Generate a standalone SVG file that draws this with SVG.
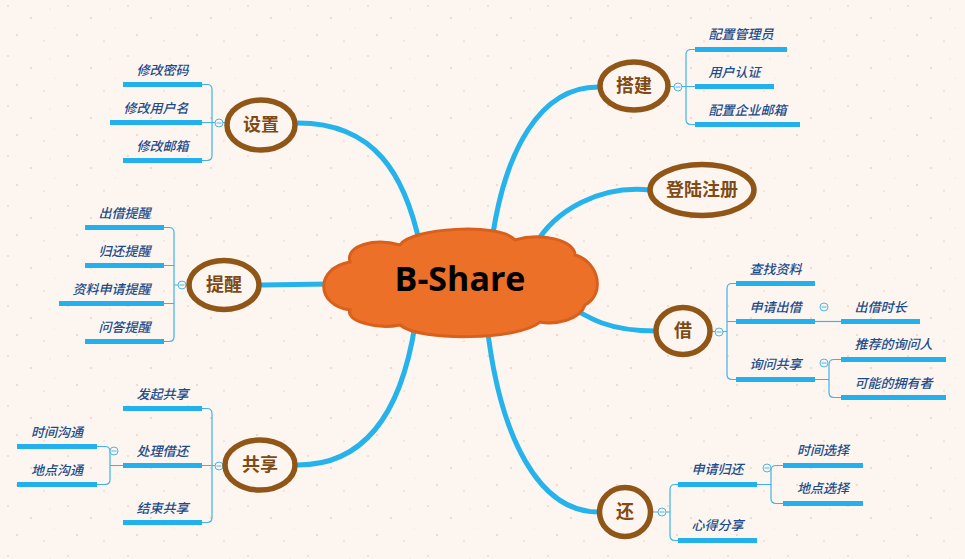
<svg xmlns="http://www.w3.org/2000/svg" width="965" height="559" viewBox="0 0 965 559">
<defs>
<pattern id="spk" width="60" height="50" patternUnits="userSpaceOnUse">
<rect width="60" height="50" fill="#fdf6f0"/>
<circle cx="8" cy="6" r="1" fill="#f2d6c4"/>
<circle cx="31" cy="18" r="0.9" fill="#f0cdb8"/>
<circle cx="50" cy="9" r="0.7" fill="#f4dccd"/>
<circle cx="17" cy="35" r="1.1" fill="#f2d3c0"/>
<circle cx="44" cy="41" r="0.8" fill="#f0cdb8"/>
<circle cx="55" cy="28" r="0.6" fill="#f4dccd"/>
</pattern>
<style>
.main{fill:none;stroke:#26b3ec;stroke-width:5;stroke-linecap:round}
.thin{fill:none;stroke:#3fb3e8;stroke-width:1.2}
.bar{fill:#22b1ec}
.col{fill:#fdf6f0;stroke:#4db6e8;stroke-width:1}
.minus{stroke:#4db6e8;stroke-width:1}
.node{fill:#fdf6f0;stroke:#8f5618;stroke-width:5.5}
.nt{font-family:"Noto Sans CJK SC","Noto Sans",sans-serif;font-size:18px;font-weight:bold;fill:#7f4a14;text-anchor:middle}
.lt{font-family:"Noto Sans CJK SC","Noto Sans",sans-serif;font-size:13px;font-weight:500;font-style:italic;fill:#1c4c8c;text-anchor:middle}
</style>
</defs>
<rect width="965" height="559" fill="url(#spk)"/>

<g id="connectors">
<path class="main" d="M298,123 C375,123 405,175 420,245"/>
<path class="main" d="M598,87 C540,87 505,150 492,240"/>
<path class="main" d="M650,190 C600,185 555,210 535,245"/>
<path class="main" d="M262,285 L330,284"/>
<path class="main" d="M560,300 C590,320 610,331 656,331"/>
<path class="main" d="M415,325 C400,420 360,465 298,465"/>
<path class="main" d="M487,325 C500,440 540,512 598,512"/>

<path class="thin" d="M202,84.5 H207 Q212,84.5 212,89.5 V155.5 Q212,160.5 207,160.5 H202 M202,122.5 H225"/>
<path class="thin" d="M164,227.5 H169 Q174,227.5 174,232.5 V336.5 Q174,341.5 169,341.5 H164 M164,265.5 H174 M164,303.5 H174 M174,285 H188"/>
<path class="thin" d="M202,408.5 H207 Q212,408.5 212,413.5 V517.5 Q212,522.5 207,522.5 H202 M202,465.5 H224"/>
<path class="thin" d="M97,446.5 H105 Q110,446.5 110,451.5 V479.5 Q110,484.5 105,484.5 H97 M110,465.5 H123"/>
<path class="thin" d="M695,49.5 H691 Q686,49.5 686,54.5 V119.5 Q686,124.5 691,124.5 H695 M670,86.5 H695"/>
<path class="thin" d="M736,283.5 H732 Q727,283.5 727,288.5 V374.5 Q727,379.5 732,379.5 H736 M727,321.5 H736 M711,331.5 H727"/>
<path class="thin" d="M815,321.5 H841"/>
<path class="thin" d="M815,379.5 H829 M841,359.5 H834 Q829,359.5 829,364.5 V392.5 Q829,397.5 834,397.5 H841"/>
<path class="thin" d="M678,484.5 H675 Q670,484.5 670,489.5 V535.5 Q670,540.5 675,540.5 H678 M652,512 H670"/>
<path class="thin" d="M757,484.5 H771 M783,465.5 H776 Q771,465.5 771,470.5 V498.5 Q771,503.5 776,503.5 H783"/>

<g id="collapsers">
<circle class="col" cx="219" cy="123" r="4"/><path class="minus" d="M216.5,123 H221.5"/>
<circle class="col" cx="182" cy="285" r="4"/><path class="minus" d="M179.5,285 H184.5"/>
<circle class="col" cx="219" cy="466" r="4"/><path class="minus" d="M216.5,466 H221.5"/>
<circle class="col" cx="114" cy="451" r="4"/><path class="minus" d="M111.5,451 H116.5"/>
<circle class="col" cx="678" cy="87" r="4"/><path class="minus" d="M675.5,87 H680.5"/>
<circle class="col" cx="719" cy="332" r="4"/><path class="minus" d="M716.5,332 H721.5"/>
<circle class="col" cx="824" cy="307" r="4"/><path class="minus" d="M821.5,307 H826.5"/>
<circle class="col" cx="824" cy="363" r="4"/><path class="minus" d="M821.5,363 H826.5"/>
<circle class="col" cx="662" cy="512" r="4"/><path class="minus" d="M659.5,512 H664.5"/>
<circle class="col" cx="767" cy="468" r="4"/><path class="minus" d="M764.5,468 H769.5"/>
</g>
</g>

<g id="root">
<path d="M350,262 C345,245 375,238 400,245 C410,228 500,222 515,240 C540,232 575,240 575,255 C600,262 605,295 585,305 C580,320 555,325 540,322 C520,340 420,342 400,325 C375,330 345,320 350,310 C315,305 315,268 350,262 Z" fill="#ec7027" stroke="#d95f1d" stroke-width="3"/>
<text x="460" y="291" font-family="'Open Sans','Noto Sans',sans-serif" font-size="34" font-weight="bold" text-anchor="middle" fill="#000">B-Share</text>
</g>

<g id="n-dajian"><ellipse class="node" cx="634" cy="86" rx="34" ry="24"/><text class="nt" x="634" y="92">搭建</text></g>
<g id="n-shezhi"><ellipse class="node" cx="261" cy="125" rx="34" ry="25"/><text class="nt" x="261" y="131">设置</text></g>
<g id="n-tixing"><ellipse class="node" cx="224" cy="285" rx="35" ry="24.5"/><text class="nt" x="224" y="291">提醒</text></g>
<g id="n-gongxiang"><ellipse class="node" cx="260" cy="465" rx="35" ry="25"/><text class="nt" x="260" y="471">共享</text></g>
<g id="n-jie"><ellipse class="node" cx="683" cy="331" rx="27" ry="23.5"/><text class="nt" x="683" y="337">借</text></g>
<g id="n-huan"><ellipse class="node" cx="625" cy="512" rx="25.5" ry="24.5"/><text class="nt" x="625" y="518">还</text></g>
<g id="n-denglu"><ellipse class="node" cx="702" cy="190" rx="52" ry="25.5"/><text class="nt" x="702" y="196">登陆注册</text></g>

<g id="l-xgmm"><rect class="bar" x="123" y="82" width="79" height="5"/><text class="lt" x="162.5" y="75">修改密码</text></g>
<g id="l-xgyhm"><rect class="bar" x="110" y="120" width="92" height="5"/><text class="lt" x="156" y="113">修改用户名</text></g>
<g id="l-xgyx"><rect class="bar" x="123" y="158" width="79" height="5"/><text class="lt" x="162.5" y="151">修改邮箱</text></g>

<g id="l-cjtx"><rect class="bar" x="85" y="225" width="79" height="5"/><text class="lt" x="124.5" y="218">出借提醒</text></g>
<g id="l-ghtx"><rect class="bar" x="85" y="263" width="79" height="5"/><text class="lt" x="124.5" y="256">归还提醒</text></g>
<g id="l-zlsqtx"><rect class="bar" x="59" y="301" width="105" height="5"/><text class="lt" x="111.5" y="294">资料申请提醒</text></g>
<g id="l-wdtx"><rect class="bar" x="85" y="339" width="79" height="5"/><text class="lt" x="124.5" y="332">问答提醒</text></g>

<g id="l-fqgx"><rect class="bar" x="123" y="406" width="79" height="5"/><text class="lt" x="162.5" y="399">发起共享</text></g>
<g id="l-cljh"><rect class="bar" x="123" y="463" width="79" height="5"/><text class="lt" x="162.5" y="456">处理借还</text></g>
<g id="l-jsgx"><rect class="bar" x="123" y="520" width="79" height="5"/><text class="lt" x="162.5" y="513">结束共享</text></g>
<g id="l-sjgt"><rect class="bar" x="17" y="444" width="80" height="5"/><text class="lt" x="57" y="437">时间沟通</text></g>
<g id="l-ddgt"><rect class="bar" x="17" y="482" width="80" height="5"/><text class="lt" x="57" y="475">地点沟通</text></g>

<g id="l-pzgly"><rect class="bar" x="695" y="47" width="92" height="5"/><text class="lt" x="741" y="39">配置管理员</text></g>
<g id="l-yhrz"><rect class="bar" x="695" y="84" width="79" height="5"/><text class="lt" x="734.5" y="77">用户认证</text></g>
<g id="l-pzqyyx"><rect class="bar" x="695" y="122" width="105" height="5"/><text class="lt" x="747.5" y="115">配置企业邮箱</text></g>

<g id="l-czzl"><rect class="bar" x="736" y="281" width="79" height="5"/><text class="lt" x="775.5" y="274">查找资料</text></g>
<g id="l-sqcj"><rect class="bar" x="736" y="319" width="79" height="5"/><text class="lt" x="775.5" y="312">申请出借</text></g>
<g id="l-xwgx"><rect class="bar" x="736" y="377" width="79" height="5"/><text class="lt" x="775.5" y="369">询问共享</text></g>
<g id="l-cjsc"><rect class="bar" x="841" y="319" width="79" height="5"/><text class="lt" x="880.5" y="312">出借时长</text></g>
<g id="l-tjdxwr"><rect class="bar" x="841" y="357" width="105" height="5"/><text class="lt" x="893.5" y="349">推荐的询问人</text></g>
<g id="l-kndyyz"><rect class="bar" x="841" y="395" width="105" height="5"/><text class="lt" x="893.5" y="388">可能的拥有者</text></g>

<g id="l-sqgh"><rect class="bar" x="678" y="482" width="79" height="5"/><text class="lt" x="717.5" y="474">申请归还</text></g>
<g id="l-xdfx"><rect class="bar" x="678" y="538" width="79" height="5"/><text class="lt" x="717.5" y="530">心得分享</text></g>
<g id="l-sjxz"><rect class="bar" x="783" y="463" width="80" height="5"/><text class="lt" x="823" y="455">时间选择</text></g>
<g id="l-ddxz"><rect class="bar" x="783" y="501" width="80" height="5"/><text class="lt" x="823" y="493">地点选择</text></g>
</svg>
